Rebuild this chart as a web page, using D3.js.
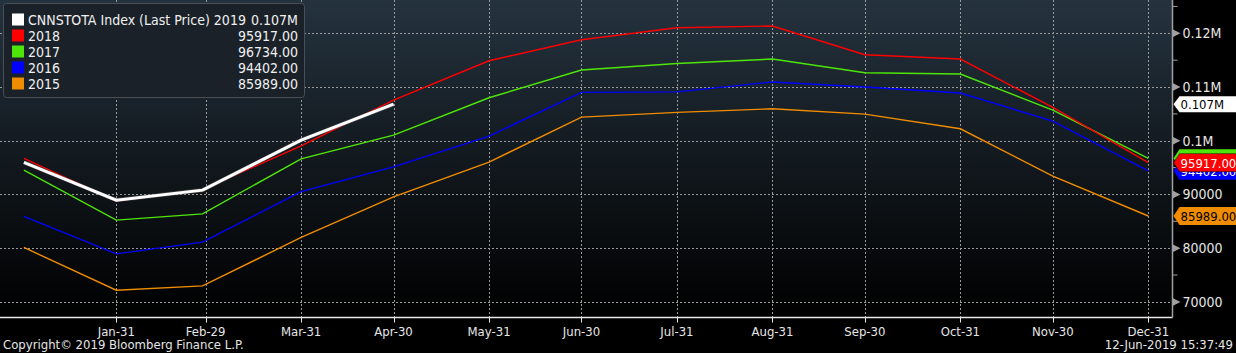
<!DOCTYPE html>
<html>
<head>
<meta charset="utf-8">
<script src="https://cdn.jsdelivr.net/npm/d3@7"></script>
<style>
  html, body { margin: 0; padding: 0; background: #000; }
  svg { display: block; }
  text { font-family: "DejaVu Sans Condensed", "Liberation Sans Narrow", sans-serif; }
</style>
</head>
<body>
<svg id="chart" width="1236" height="353"></svg>
<script>
// dates of the points (one generic year so all series share the x axis)
const pointDates = ["2016-01-01", "2016-01-31", "2016-02-28", "2016-03-31", "2016-04-30", "2016-05-31",
                    "2016-06-30", "2016-07-31", "2016-08-31", "2016-09-30", "2016-10-31", "2016-11-30", "2016-12-31"];
const tickDates = ["2016-01-31", "2016-02-29", "2016-03-31", "2016-04-30", "2016-05-31", "2016-06-30",
                   "2016-07-31", "2016-08-31", "2016-09-30", "2016-10-31", "2016-11-30", "2016-12-31"];
const tickLabels = ["Jan-31", "Feb-29", "Mar-31", "Apr-30", "May-31", "Jun-30",
                    "Jul-31", "Aug-31", "Sep-30", "Oct-31", "Nov-30", "Dec-31"];

const seriesNames = ["CNNSTOTA Index (Last Price) 2019", "2018", "2017", "2016", "2015"];
const seriesColors = ["#ffffff", "#ff0000", "#4ee60a", "#0000ff", "#f08c00"];
const lastLabels = ["0.107M", "95917.00", "96734.00", "94402.00", "85989.00"];

const values2019 = [95969, 88946, 90809, 100123, 106800];
const values2018 = [96714, 88760, 90939, 99061, 107574, 114896, 118808, 121043, 121360, 116013, 115212, 106215, 95917];
const values2017 = [94534, 85220, 86393, 96640, 101055, 108003, 113163, 114374, 115212, 112660, 112418, 105712, 96734];
const values2016 = [85909, 78942, 81121, 90529, 95149, 100868, 109009, 109100, 110928, 109996, 108879, 103662, 94402];
const values2015 = [80134, 72179, 72981, 81997, 89560, 96024, 104408, 105283, 105954, 104966, 102228, 93416, 85989];

const yTicks = [70000, 80000, 90000, 100000, 110000, 120000];
const yMinorTicks = [75000, 85000, 95000, 105000, 115000, 125000];

const svg = d3.select("#chart");
const plotRight = 1172.5, plotBottom = 317.5;

const parse = d3.utcParse("%Y-%m-%d");

// the time scale runs on past the first and last tick on both sides
const x = d3.scaleUtc()
  .domain([parse(tickDates[0]), parse(tickDates[11])])
  .range([116.3, 1148.3]);

const y = d3.scaleLinear()
  .domain([67094, 126203])
  .range([plotBottom, 0]);

const fmtY = v => v >= 100000 ? (v / 1e6) + "M" : String(v);

// background gradient
const defs = svg.append("defs");
const grad = defs.append("linearGradient")
  .attr("id", "bg").attr("x1", 0).attr("y1", 0).attr("x2", 0).attr("y2", 1);
grad.append("stop").attr("offset", "0%").attr("stop-color", "#25333f");
grad.append("stop").attr("offset", "55%").attr("stop-color", "#10161b");
grad.append("stop").attr("offset", "100%").attr("stop-color", "#000000");

svg.append("rect").attr("width", 1236).attr("height", 353).attr("fill", "#000");
svg.append("rect")
  .attr("x", 0).attr("y", 0)
  .attr("width", plotRight).attr("height", plotBottom)
  .attr("fill", "url(#bg)");

// grid
const grid = svg.append("g");
grid.selectAll("line.h")
  .data(yTicks)
  .enter().append("line")
  .attr("x1", 0).attr("x2", plotRight)
  .attr("y1", d => Math.round(y(d)) + 0.5).attr("y2", d => Math.round(y(d)) + 0.5)
  .attr("stroke", "#9a9a9a").attr("stroke-dasharray", "2,2").attr("stroke-width", 1);
grid.selectAll("line.v")
  .data(tickDates)
  .enter().append("line")
  .attr("x1", d => Math.round(x(parse(d))) + 0.5).attr("x2", d => Math.round(x(parse(d))) + 0.5)
  .attr("y1", 0).attr("y2", plotBottom)
  .attr("stroke", "#9a9a9a").attr("stroke-dasharray", "2,2").attr("stroke-width", 1);

// lines
const allValues = [values2019, values2018, values2017, values2016, values2015];
const line = d3.line()
  .x((d, i) => x(parse(pointDates[i])))
  .y(d => y(d));

[4, 3, 2, 1].forEach(i => {
  svg.append("path")
    .datum(allValues[i])
    .attr("d", line)
    .attr("fill", "none")
    .attr("stroke", seriesColors[i])
    .attr("stroke-width", 1.4);
});
svg.append("path")
  .datum(values2019)
  .attr("d", line)
  .attr("fill", "none")
  .attr("stroke", "#666")
  .attr("stroke-width", 4.2)
  .attr("opacity", 0.5);
svg.append("path")
  .datum(values2019)
  .attr("d", line)
  .attr("fill", "none")
  .attr("stroke", "#ffffff")
  .attr("stroke-width", 3);

// bottom axis
const xAxis = svg.append("g").attr("transform", `translate(0,${plotBottom})`);
xAxis.append("line")
  .attr("x1", 0).attr("x2", plotRight)
  .attr("stroke", "#e8e8e8").attr("stroke-width", 1.5);
xAxis.selectAll("line.t")
  .data(tickDates)
  .enter().append("line")
  .attr("x1", d => Math.round(x(parse(d))) + 0.5).attr("x2", d => Math.round(x(parse(d))) + 0.5)
  .attr("y1", 0).attr("y2", 5)
  .attr("stroke", "#e8e8e8");
xAxis.selectAll("text")
  .data(tickDates)
  .enter().append("text")
  .attr("x", d => x(parse(d)))
  .attr("y", 18)
  .attr("text-anchor", "middle")
  .attr("fill", "#e6e6e6")
  .attr("font-size", 13)
  .text((d, i) => tickLabels[i]);

// right axis
const yAxis = svg.append("g").attr("transform", `translate(${plotRight},0)`);
yAxis.append("line")
  .attr("y1", 0).attr("y2", plotBottom)
  .attr("stroke", "#a0a0a0").attr("stroke-width", 1.5);
yAxis.selectAll("line.m")
  .data(yMinorTicks)
  .enter().append("line")
  .attr("x1", 0).attr("x2", 5)
  .attr("y1", d => y(d)).attr("y2", d => y(d))
  .attr("stroke", "#a0a0a0");
yAxis.selectAll("path.tri")
  .data(yTicks)
  .enter().append("path")
  .attr("d", d => `M0,${y(d) - 4}L8,${y(d)}L0,${y(d) + 4}Z`)
  .attr("fill", "#a0a0a0");
yAxis.selectAll("text")
  .data(yTicks)
  .enter().append("text")
  .attr("x", 10)
  .attr("y", d => y(d) + 5)
  .attr("fill", "#e6e6e6")
  .attr("font-size", 14)
  .text(fmtY);

// last value tags (green and blue sit behind red, as in the terminal)
const tags = [
  { i: 2, v: values2017[12], text: "#ffffff" },
  { i: 3, v: values2016[12], text: "#ffffff" },
  { i: 1, v: values2018[12], text: "#ffffff" },
  { i: 4, v: values2015[12], text: "#000000" },
  { i: 0, v: values2019[4], text: "#000000" }
];
tags.forEach(t => {
  const cy = y(t.v);
  const h = t.i === 0 ? 8 : 9;
  const gTag = svg.append("g").attr("transform", `translate(${plotRight + 1},${cy})`);
  gTag.append("path")
    .attr("d", `M0,0L6,${-h}L70,${-h}L70,${h}L6,${h}Z`)
    .attr("fill", seriesColors[t.i])
    .attr("stroke", t.i === 1 ? "#000" : "none")
    .attr("stroke-width", 0.5);
  gTag.append("text")
    .attr("x", 7)
    .attr("y", 5)
    .attr("fill", t.text)
    .attr("font-size", 13)
    .text(lastLabels[t.i]);
});

// legend
const legend = svg.append("g");
legend.append("rect")
  .attr("x", 3.5).attr("y", 3.5)
  .attr("width", 301).attr("height", 94)
  .attr("rx", 3)
  .attr("fill", "#1a2129")
  .attr("stroke", "#4a4f55");
seriesNames.forEach((name, i) => {
  const cy = 19.5 + i * 16;
  legend.append("rect")
    .attr("x", 12).attr("y", cy - 6)
    .attr("width", 12).attr("height", 12)
    .attr("fill", seriesColors[i]);
  legend.append("text")
    .attr("x", 28).attr("y", cy + 5)
    .attr("fill", "#f0f0f0")
    .attr("font-size", 14)
    .text(name);
  legend.append("text")
    .attr("x", 298).attr("y", cy + 5)
    .attr("text-anchor", "end")
    .attr("fill", "#f0f0f0")
    .attr("font-size", 14)
    .text(lastLabels[i]);
});

// footer
svg.append("text")
  .attr("x", 3).attr("y", 349)
  .attr("fill", "#e6e6e6").attr("font-size", 13)
  .text("Copyright© 2019 Bloomberg Finance L.P.");
svg.append("text")
  .attr("x", 1233).attr("y", 349)
  .attr("text-anchor", "end")
  .attr("fill", "#e6e6e6").attr("font-size", 13)
  .text("12-Jun-2019 15:37:49");
</script>
</body>
</html>
